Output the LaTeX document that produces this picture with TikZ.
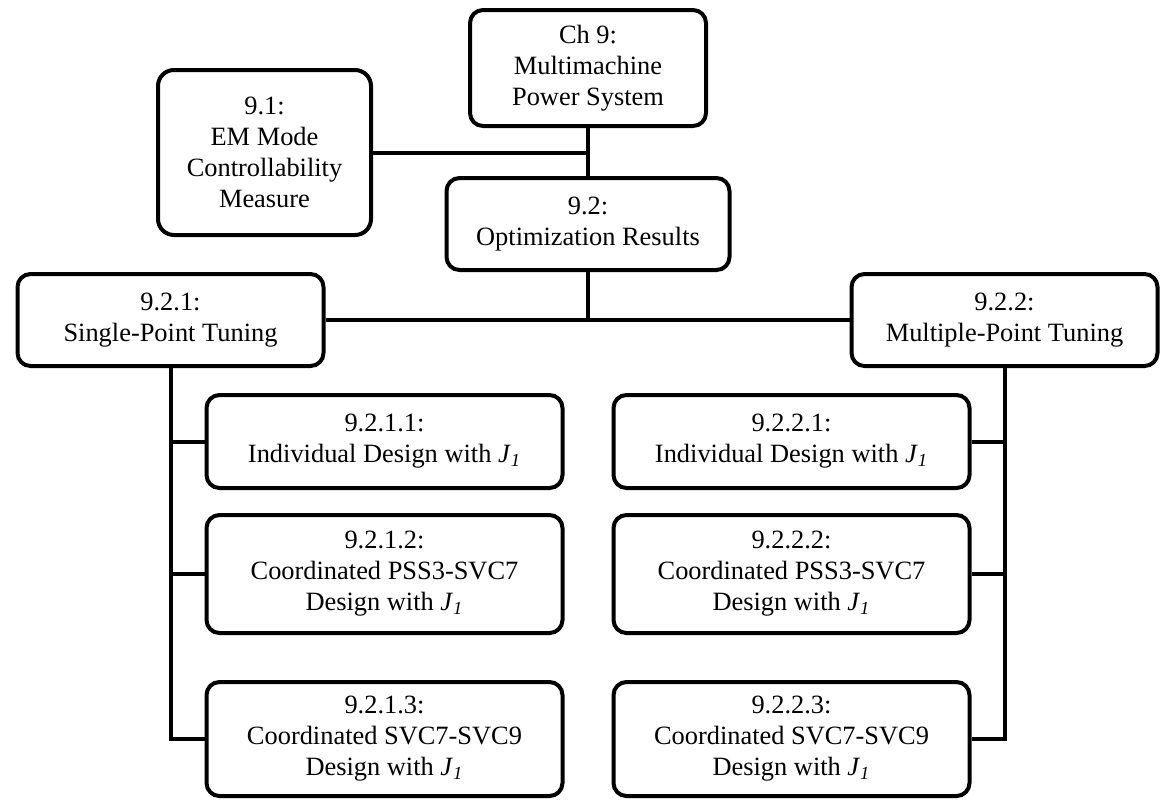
\documentclass[tikz,border=0pt]{standalone}
\usepackage{fontspec}
\setmainfont{Liberation Serif}
\usetikzlibrary{positioning}
\tikzset{
  box/.style={rectangle, draw=black, fill=white, align=center,
    font=\fontsize{13.2pt}{15.5pt}\selectfont, rounded corners=6.5pt,
    line width=2pt, inner sep=2pt},
  line/.style={line width=2pt, color=black}
}
\newcommand{\Jone}{\textit{J}\textsubscript{\textit{1}}}

\begin{document}
\begin{tikzpicture}[
  topbox/.style={box, minimum width=118pt, minimum height=58pt},
  midbox/.style={box, minimum width=141.5pt, minimum height=46pt},
  sidebox/.style={box, minimum width=106.5pt, minimum height=82.5pt, rounded corners=8pt},
  tunebox/.style={box, minimum width=153pt, minimum height=46pt},
  subbox/.style={box, minimum width=178pt}
]
\useasboundingbox (0,0) rectangle (580.5pt,-399.5pt);
\node[topbox] (ch9) at (294pt,-34pt) {Ch 9:\\ Multimachine\\ Power System};
\node[midbox, below=24pt of ch9] (optim) {9.2:\\ Optimization Results};
\node[sidebox, below left=-30pt and 47.5pt of ch9] (emmode) {9.1:\\ EM Mode\\ Controllability\\ Measure};
\node[tunebox, below left=0pt and 59.5pt of optim] (single) {9.2.1:\\ Single-Point Tuning};
\node[tunebox, below right=0pt and 59pt of optim] (multi) {9.2.2:\\ Multiple-Point Tuning};

% single-point column
\node[subbox, minimum height=46.5pt, below right=12.5pt and 17pt of single.south] (ind1) {9.2.1.1:\\ Individual Design with \Jone};
\node[subbox, minimum height=59pt, below=11.5pt of ind1] (coord1) {9.2.1.2:\\ Coordinated PSS3-SVC7\\ Design with \Jone};
\node[subbox, minimum height=57pt, below=22.5pt of coord1] (svc1) {9.2.1.3:\\ Coordinated SVC7-SVC9\\ Design with \Jone};

% multiple-point column
\node[subbox, minimum height=46.5pt, right=23.5pt of ind1] (ind2) {9.2.2.1:\\ Individual Design with \Jone};
\node[subbox, minimum height=59pt, right=23.5pt of coord1] (coord2) {9.2.2.2:\\ Coordinated PSS3-SVC7\\ Design with \Jone};
\node[subbox, minimum height=57pt, right=23.5pt of svc1] (svc2) {9.2.2.3:\\ Coordinated SVC7-SVC9\\ Design with \Jone};

\draw[line] (ch9) -- (optim);
\draw[line] (emmode) -- (emmode -| ch9);
\draw[line] (optim) -- (optim |- single);
\draw[line] (single) -- (multi);
\draw[line] (single) |- (svc1);
\draw[line] (single |- ind1) -- (ind1);
\draw[line] (single |- coord1) -- (coord1);
\draw[line] (multi) |- (svc2);
\draw[line] (multi |- ind2) -- (ind2);
\draw[line] (multi |- coord2) -- (coord2);
\end{tikzpicture}
\end{document}
